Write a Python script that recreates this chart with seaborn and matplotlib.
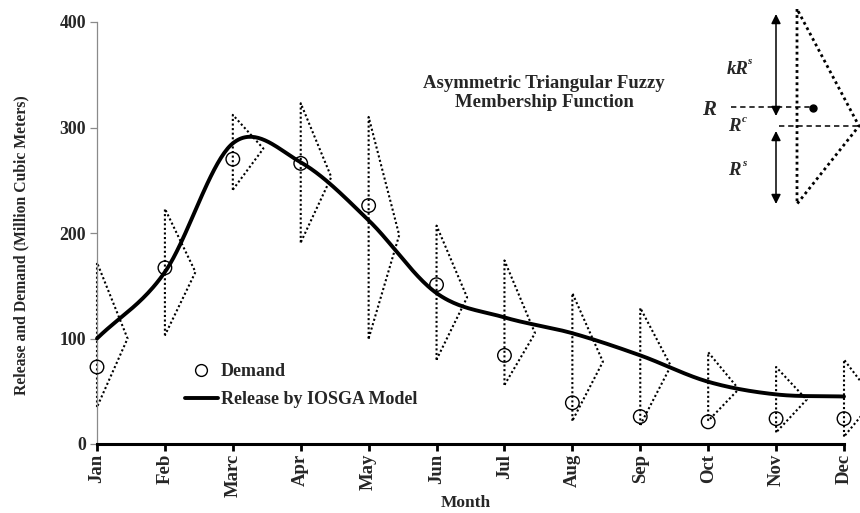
import numpy as np
import pandas as pd
import matplotlib
matplotlib.use("Agg")
import matplotlib.pyplot as plt
import seaborn as sns
from matplotlib.transforms import Affine2D
from matplotlib.lines import Line2D
from matplotlib.patches import FancyArrowPatch

# ---- data ----
months = ["Jan", "Feb", "Marc", "Apr", "May", "Jun", "Jul", "Aug", "Sep", "Oct", "Nov", "Dec"]
demand = [73, 167, 270, 266, 226, 151, 84, 39, 26, 21, 24, 24]
release = [100, 163, 285, 267, 212, 143, 120, 105, 84, 59, 47, 45]
tri_top = [172, 223, 312, 323, 310, 207, 174, 143, 129, 87, 73, 80]
tri_mid = [100, 163, 280, 253, 198, 139, 105, 78, 74, 52, 42, 42]
tri_bottom = [35, 103, 241, 191, 100, 80, 56, 22, 18, 22, 11, 7]
yticks = [0, 100, 200, 300, 400]

sns.set_theme(style="white")
plt.rcParams["font.family"] = ["Liberation Serif", "DejaVu Serif"]
plt.rcParams["font.weight"] = "bold"

W, H = 860, 513
fig = plt.figure(figsize=(W / 100, H / 100), dpi=100)
ax = fig.add_axes([97 / W, 1 - 444 / H, (844 - 97) / W, (444 - 22) / H])

xpos = np.arange(len(months))
df = pd.DataFrame({"x": xpos, "month": months, "demand": demand, "release": release})


def smooth(xs, ys, n=40):
    """Catmull-Rom smoothing (like a spreadsheet 'smoothed line')."""
    xs = np.asarray(xs, float)
    ys = np.asarray(ys, float)
    m = len(xs)
    tang = np.zeros(m)
    tang[1:-1] = (ys[2:] - ys[:-2]) / 2
    tang[0] = ys[1] - ys[0]
    tang[-1] = ys[-1] - ys[-2]
    ox, oy = [], []
    for i in range(m - 1):
        t = np.linspace(0, 1, n, endpoint=(i == m - 2))
        h00 = 2 * t**3 - 3 * t**2 + 1
        h10 = t**3 - 2 * t**2 + t
        h01 = -2 * t**3 + 3 * t**2
        h11 = t**3 - t**2
        oy.append(h00 * ys[i] + h10 * tang[i] + h01 * ys[i + 1] + h11 * tang[i + 1])
        ox.append(xs[i] + t * (xs[i + 1] - xs[i]))
    return np.concatenate(ox), np.concatenate(oy)


dot = (0, (1, 1.2))

# fuzzy triangles
apex_dx = 0.45
for i in range(len(months)):
    ax.plot([xpos[i], xpos[i], xpos[i] + apex_dx, xpos[i]],
            [tri_bottom[i], tri_top[i], tri_mid[i], tri_bottom[i]],
            color="black", linestyle=dot, linewidth=1.5, clip_on=False, zorder=2)

sx, sy = smooth(df["x"], df["release"])
sdf = pd.DataFrame({"x": sx, "y": sy})
sns.lineplot(data=sdf, x="x", y="y", ax=ax, color="black", linewidth=2.8,
             clip_on=False, zorder=3, sort=False)
sns.scatterplot(data=df, x="x", y="demand", ax=ax, marker="o", s=95,
                facecolor="none", edgecolor="black", linewidth=1.0, zorder=4, clip_on=False)

ax.set_xlim(0, 11)
ax.set_ylim(0, 400)
ax.set_xticks(xpos)
ax.set_xticklabels(months, rotation=90, fontsize=13.5, fontweight="bold")
ax.set_yticks(yticks)
ax.set_yticklabels([str(v) for v in yticks], fontsize=12.8, fontweight="bold")
ax.set_xlabel("Month", fontsize=12.5, fontweight="bold")
ax.set_ylabel("Release and Demand (Million Cubic Meters)", fontsize=11.3, fontweight="bold")
ax.xaxis.set_label_coords((466 - 97) / 747, (444 - 495) / 422)
ax.yaxis.set_label_coords((29 - 97) / 747, (444 - 245) / 422)

for s in ["top", "right"]:
    ax.spines[s].set_visible(False)
ax.spines["left"].set_color("#8a8a8a")
ax.spines["left"].set_linewidth(0.9)
ax.spines["bottom"].set_color("black")
ax.spines["bottom"].set_linewidth(2.2)
ax.tick_params(axis="y", which="major", direction="out", length=5, width=0.9,
               color="#8a8a8a", pad=3, left=True)
ax.tick_params(axis="x", which="major", direction="out", length=5, width=2,
               color="black", pad=2, bottom=True)

# legend
handles = [
    Line2D([], [], linestyle="none", marker="o", markersize=8.5, markerfacecolor="none",
           markeredgecolor="black", markeredgewidth=1.0),
    Line2D([], [], color="black", linewidth=2.8),
]
leg = ax.legend(handles, ["Demand", "Release by IOSGA Model"], frameon=False,
                loc="upper left", bbox_to_anchor=(185 / W, 1 - 363 / H),
                bbox_transform=fig.transFigure,
                prop={"family": "Liberation Serif", "weight": "bold", "size": 13},
                handlelength=1.8, handletextpad=0.2, labelspacing=0.62,
                borderaxespad=0, borderpad=0)

# inset: explanation of the asymmetric triangular fuzzy membership function
pix = Affine2D().scale(1 / W, -1 / H).translate(0, 1) + fig.transFigure
fig.text(544 / W, 1 - 84 / H, "Asymmetric Triangular Fuzzy", ha="center", va="center",
         fontsize=13.5, fontweight="bold")
fig.text(544 / W, 1 - 103 / H, "Membership Function", ha="center", va="center",
         fontsize=13.5, fontweight="bold")

fig.add_artist(Line2D([797, 797, 859, 797], [9, 204, 126, 9], transform=pix, color="black",
                      linestyle=dot, linewidth=2.0))
fig.add_artist(Line2D([731, 813], [107, 107], transform=pix, color="black",
                      linestyle=(0, (3.5, 2.5)), linewidth=1.1))
fig.add_artist(Line2D([779, 859], [126, 126], transform=pix, color="black",
                      linestyle=(0, (3.5, 2.5)), linewidth=1.1))
fig.add_artist(Line2D([813], [108], transform=pix, color="black", marker="o",
                      markersize=5, linestyle="none"))
for y0, y1 in [(14, 116), (131, 204)]:
    fig.add_artist(FancyArrowPatch(
        (776, y0), (776, y1), transform=pix, arrowstyle="<|-|>", mutation_scale=14,
        color="black", linewidth=1.1, shrinkA=0, shrinkB=0))

it = dict(fontweight="bold", fontstyle="italic", va="center", ha="left")
fig.text(727 / W, 1 - 69 / H, "kR", fontsize=13.5, **it)
fig.text(747.5 / W, 1 - 62 / H, "s", fontsize=8, **it)
fig.text(702 / W, 1 - 110 / H, "R", fontsize=15, **it)
fig.text(728 / W, 1 - 127 / H, "R", fontsize=13.5, **it)
fig.text(742 / W, 1 - 120 / H, "c", fontsize=8, **it)
fig.text(728 / W, 1 - 171 / H, "R", fontsize=13.5, **it)
fig.text(742 / W, 1 - 164 / H, "s", fontsize=8, **it)

fig.savefig("out.png", dpi=100)
